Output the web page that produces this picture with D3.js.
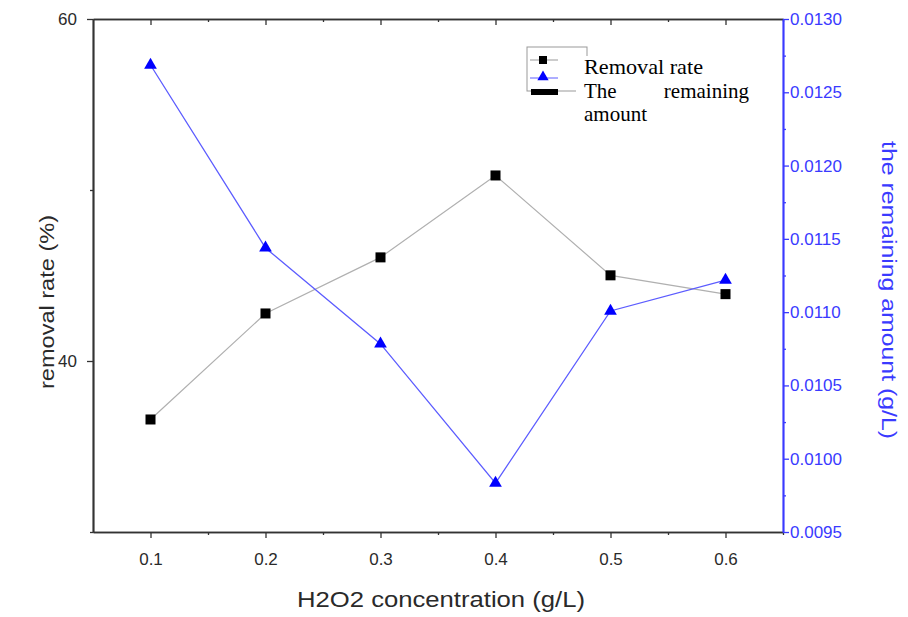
<!DOCTYPE html>
<html><head><meta charset="utf-8">
<script src="https://cdn.jsdelivr.net/npm/d3@7"></script>
<style>body{margin:0;background:#fff}svg{display:block}</style>
</head><body>
<svg id="c" width="908" height="617"></svg>
<script>
const concentrations = [0.1, 0.2, 0.3, 0.4, 0.5, 0.6];
const removalRate = [36.58, 42.78, 46.06, 50.85, 45.01, 43.91];
const remainingAmount = [0.012686, 0.011438, 0.010783, 0.009834, 0.011008, 0.011219];
const xTicks = [0.1, 0.2, 0.3, 0.4, 0.5, 0.6];
const leftTicks = [40, 60];
const rightTicks = [0.0095, 0.0100, 0.0105, 0.0110, 0.0115, 0.0120, 0.0125, 0.0130];
const legendLabels = ["Removal rate", "The remaining amount"];

const svg = d3.select("#c");
const L = 93, R = 783, T = 19, B = 532;
const x = d3.scaleLinear().domain([0.05, 0.65]).range([L, R]);
const yL = d3.scaleLinear().domain([30, 60]).range([B, T]);
const yR = d3.scaleLinear().domain([0.0095, 0.0130]).range([B, T]);

const sans = "Liberation Sans, Arial, sans-serif";
const tickFont = 17;

// axes
const minorX = [0.15, 0.25, 0.35, 0.45, 0.55, 0.65];
const minorR = [0.00975, 0.01025, 0.01075, 0.01125, 0.01175, 0.01225, 0.01275];
const gB = svg.append("g").attr("transform", `translate(0,${B})`)
  .call(d3.axisBottom(x).tickValues(xTicks).tickFormat(d3.format(".1f")).tickSize(6).tickSizeOuter(0));
const gBm = svg.append("g").attr("transform", `translate(0,${B})`)
  .call(d3.axisBottom(x).tickValues(minorX).tickFormat("").tickSize(3).tickSizeOuter(0));
const gT = svg.append("g").attr("transform", `translate(0,${T})`)
  .call(d3.axisBottom(x).tickValues(xTicks).tickFormat("").tickSize(6).tickSizeOuter(0));
const gTm = svg.append("g").attr("transform", `translate(0,${T})`)
  .call(d3.axisBottom(x).tickValues(minorX).tickFormat("").tickSize(3).tickSizeOuter(0));
const gL = svg.append("g").attr("transform", `translate(${L},0)`)
  .call(d3.axisLeft(yL).tickValues(leftTicks).tickFormat(d3.format("d")).tickSize(6).tickSizeOuter(0));
const gLm = svg.append("g").attr("transform", `translate(${L},0)`)
  .call(d3.axisLeft(yL).tickValues([30, 50]).tickFormat("").tickSize(3).tickSizeOuter(0));
const gR = svg.append("g").attr("transform", `translate(${R},0)`)
  .call(d3.axisRight(yR).tickValues(rightTicks).tickFormat(d3.format(".4f")).tickSize(6).tickSizeOuter(0));
const gRm = svg.append("g").attr("transform", `translate(${R},0)`)
  .call(d3.axisRight(yR).tickValues(minorR).tickFormat("").tickSize(3).tickSizeOuter(0));

[gB, gBm, gT, gTm, gL, gLm].forEach(g => {
  g.selectAll("path").attr("stroke", "#333").attr("stroke-width", 1.7);
  g.selectAll("line").attr("stroke", "#333").attr("stroke-width", 1.3);
  g.selectAll("text").attr("font-family", sans).attr("font-size", tickFont).attr("fill", "#2a2a2a");
});
[gR, gRm].forEach(g => {
  g.selectAll("path").attr("stroke", "#3a3aff").attr("stroke-width", 1.7);
  g.selectAll("line").attr("stroke", "#3a3aff").attr("stroke-width", 1.3);
  g.selectAll("text").attr("font-family", sans).attr("font-size", tickFont).attr("fill", "#3a3aff");
});
gB.selectAll("text").attr("y", 21).attr("dy", "0.71em");
gL.selectAll("text").attr("x", -16);
gR.selectAll("text").attr("x", 7);

// axis titles
svg.append("text").attr("x", 441).attr("y", 607).attr("text-anchor", "middle")
  .attr("font-family", sans).attr("font-size", 22).attr("textLength", 288).attr("lengthAdjust", "spacingAndGlyphs")
  .attr("fill", "#2a2a2a").text("H2O2 concentration (g/L)");
svg.append("text").attr("transform", "translate(54,302) rotate(-90)").attr("text-anchor", "middle")
  .attr("font-family", sans).attr("font-size", 20).attr("textLength", 174).attr("lengthAdjust", "spacingAndGlyphs")
  .attr("fill", "#2a2a2a").text("removal rate (%)");
svg.append("text").attr("transform", "translate(882,290) rotate(90)").attr("text-anchor", "middle")
  .attr("font-family", sans).attr("font-size", 20).attr("textLength", 298).attr("lengthAdjust", "spacingAndGlyphs")
  .attr("fill", "#3a3aff").text("the remaining amount (g/L)");

// series
const d1 = concentrations.map((c, i) => [c, removalRate[i]]);
const d2 = concentrations.map((c, i) => [c, remainingAmount[i]]);
svg.append("path").datum(d1).attr("fill", "none").attr("stroke", "#b0b0b0").attr("stroke-width", 1.2)
  .attr("d", d3.line().x(d => x(d[0])).y(d => yL(d[1])));
svg.append("path").datum(d2).attr("fill", "none").attr("stroke", "#5c5cff").attr("stroke-width", 1.3)
  .attr("d", d3.line().x(d => x(d[0])).y(d => yR(d[1])));
svg.selectAll(".sq").data(d1).enter().append("rect")
  .attr("x", d => x(d[0]) - 5).attr("y", d => yL(d[1]) - 5).attr("width", 10).attr("height", 10).attr("fill", "#000");
const tri = d3.symbol().type(d3.symbolTriangle).size(70);
svg.selectAll(".tr").data(d2).enter().append("path")
  .attr("transform", d => `translate(${x(d[0])},${yR(d[1])})`).attr("d", tri).attr("fill", "#0000ff");

// legend
const lg = svg.append("g");
lg.append("rect").attr("x", 527).attr("y", 47).attr("width", 60).attr("height", 44)
  .attr("fill", "#fff").attr("stroke", "#999").attr("stroke-width", 1);
lg.append("rect").attr("x", 576).attr("y", 56).attr("width", 200).attr("height", 80).attr("fill", "#fff");
lg.append("line").attr("x1", 530).attr("x2", 558).attr("y1", 60).attr("y2", 60).attr("stroke", "#999");
lg.append("rect").attr("x", 539).attr("y", 56).attr("width", 8).attr("height", 8).attr("fill", "#000");
lg.append("line").attr("x1", 530).attr("x2", 558).attr("y1", 78).attr("y2", 78).attr("stroke", "#5c5cff");
lg.append("path").attr("transform", "translate(543,77)").attr("d", d3.symbol().type(d3.symbolTriangle).size(55)).attr("fill", "#0000ff");
lg.append("rect").attr("x", 531).attr("y", 89).attr("width", 27).attr("height", 6).attr("fill", "#000");
const serif = "Liberation Serif, Times New Roman, serif";
const lf = 21;
lg.append("text").attr("x", 584).attr("y", 74).attr("font-family", serif).attr("font-size", lf)
  .attr("textLength", 119).attr("lengthAdjust", "spacingAndGlyphs").attr("fill", "#000").text(legendLabels[0]);
const words = legendLabels[1].split(" ");
lg.append("text").attr("x", 584).attr("y", 98).attr("font-family", serif).attr("font-size", lf).attr("fill", "#000").text(words[0]);
lg.append("text").attr("x", 749).attr("y", 98).attr("text-anchor", "end").attr("font-family", serif).attr("font-size", lf).attr("fill", "#000").text(words[1]);
lg.append("text").attr("x", 584).attr("y", 121).attr("font-family", serif).attr("font-size", lf).attr("fill", "#000").text(words[2]);
</script>
</body></html>
